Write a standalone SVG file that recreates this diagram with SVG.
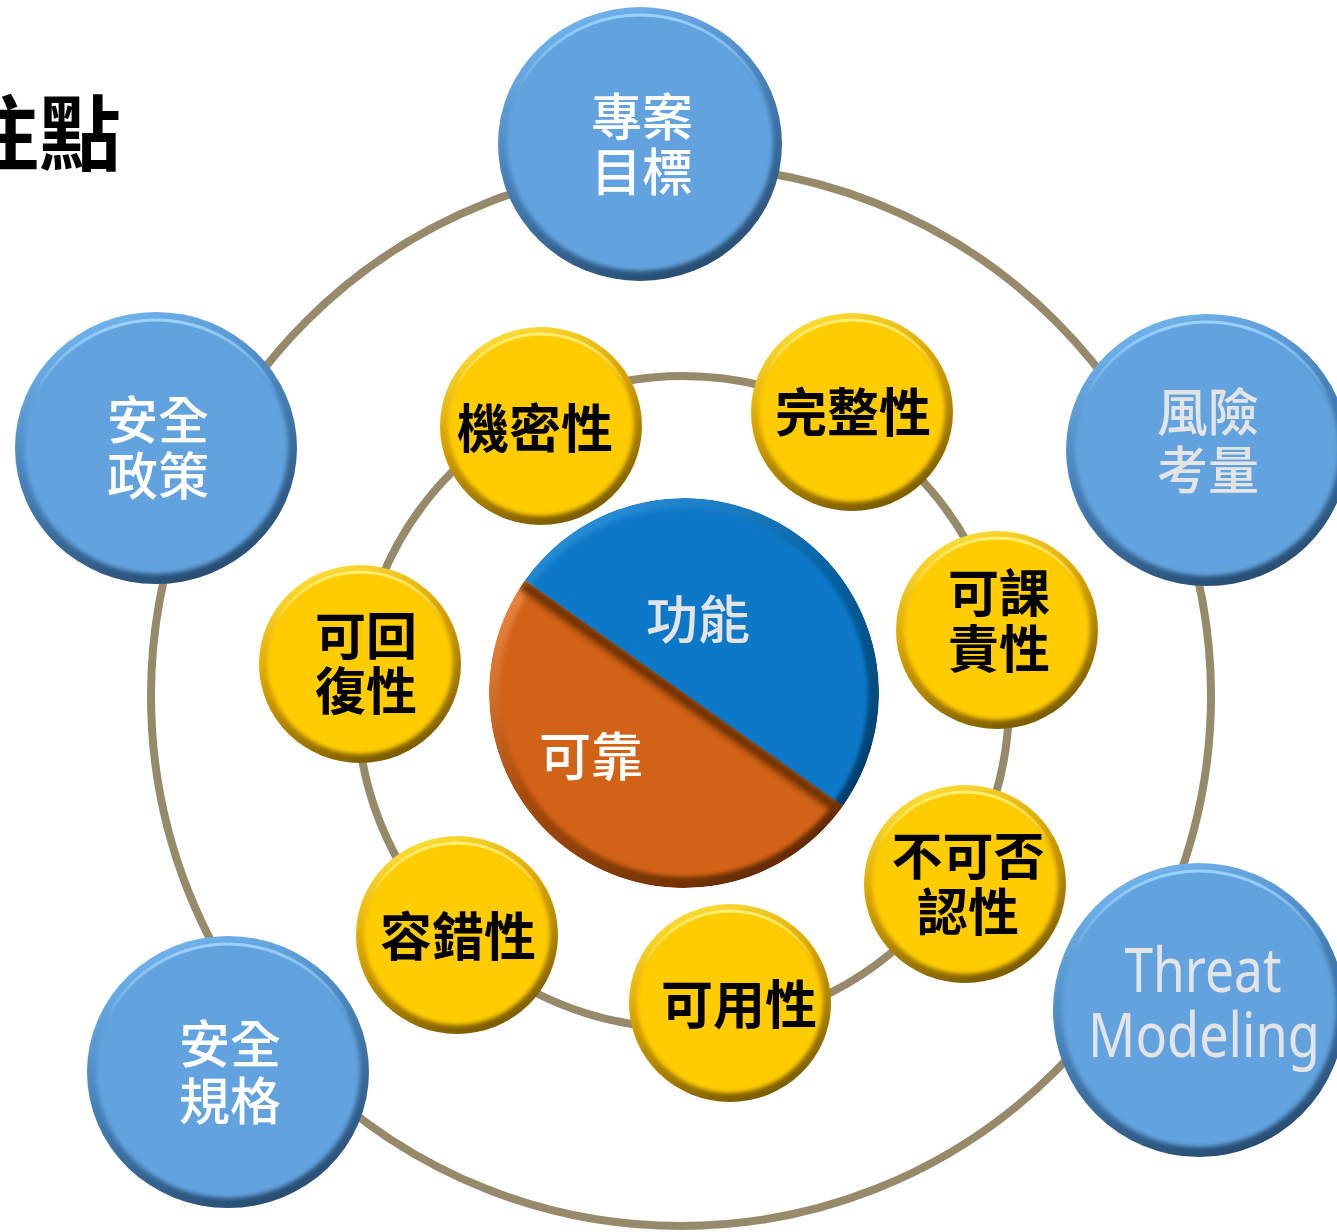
<svg xmlns="http://www.w3.org/2000/svg" width="1337" height="1232" viewBox="0 0 1337 1232">
<style>
.ring{fill:none;stroke:#968a6b;stroke-width:8}
.cjk{font-family:"Noto Sans CJK TC","Noto Sans CJK SC",sans-serif;text-anchor:middle;dominant-baseline:central}
.bt{font-size:51px;fill:#ffffff;font-weight:500}
.gt{font-size:51px;fill:#e4e4e4;font-weight:500}
.yt{font-size:52px;fill:#000000;font-weight:bold}
.y2{font-size:51px}
.lat{font-family:"Noto Sans","Open Sans",sans-serif;font-size:62px;fill:#e4e4e4;text-anchor:middle}
.brim{fill:url(#rimBlue)}
.bin{fill:#62a3df;filter:url(#soft)}
.bhl{fill:none;stroke:url(#hlBlue);stroke-width:3}
.yrim{fill:url(#rimYel)}
.yin{fill:#ffcc00;filter:url(#soft)}
.yhl{fill:none;stroke:url(#hlYel);stroke-width:3}
</style>
<defs>
<filter id="soft" x="-10%" y="-10%" width="120%" height="120%"><feGaussianBlur stdDeviation="2.2"/></filter>
<filter id="blur3" x="-10%" y="-10%" width="120%" height="120%"><feGaussianBlur stdDeviation="3"/></filter>
<linearGradient id="rimBlue" x1="0.3" y1="0" x2="0.7" y2="1">
<stop offset="0" stop-color="#74b6ee"/><stop offset="0.4" stop-color="#4a86c0"/><stop offset="1" stop-color="#264a6e"/>
</linearGradient>
<linearGradient id="hlBlue" x1="0" y1="0" x2="0" y2="1">
<stop offset="0" stop-color="#9ed4ff" stop-opacity="0.95"/><stop offset="0.3" stop-color="#9ed4ff" stop-opacity="0"/>
</linearGradient>
<linearGradient id="rimYel" x1="0.3" y1="0" x2="0.7" y2="1">
<stop offset="0" stop-color="#ffe03a"/><stop offset="0.4" stop-color="#d9a300"/><stop offset="1" stop-color="#755800"/>
</linearGradient>
<linearGradient id="hlYel" x1="0" y1="0" x2="0" y2="1">
<stop offset="0" stop-color="#fff27a" stop-opacity="0.95"/><stop offset="0.3" stop-color="#fff27a" stop-opacity="0"/>
</linearGradient>
<linearGradient id="rimPieB" x1="0.2" y1="0" x2="0.8" y2="1">
<stop offset="0" stop-color="#2c93e0"/><stop offset="0.45" stop-color="#05609f"/><stop offset="1" stop-color="#02345e"/>
</linearGradient>
<linearGradient id="rimPieO" x1="0" y1="0.2" x2="0.7" y2="1">
<stop offset="0" stop-color="#f5904a"/><stop offset="0.45" stop-color="#a84b0c"/><stop offset="1" stop-color="#622a05"/>
</linearGradient>
<clipPath id="pieClip"><circle cx="684" cy="693" r="195"/></clipPath>
<clipPath id="blueHalf"><path d="M524.9,580.1 A195,195 0 0 1 843.1,805.9 Z"/></clipPath>
<clipPath id="orangeHalf"><path d="M843.1,805.9 A195,195 0 0 1 524.9,580.1 Z"/></clipPath>
</defs>

<rect width="1337" height="1232" fill="#ffffff"/>

<text class="cjk" x="121" y="128" style="font-size:82px;font-weight:bold;fill:#000;text-anchor:end">注點</text>

<g id="connectors">
<circle class="ring" cx="681" cy="696" r="530"/>
<circle class="ring" cx="683" cy="702" r="326"/>
</g>

<g id="pie">
<g clip-path="url(#orangeHalf)">
<circle cx="684" cy="693" r="195" fill="url(#rimPieO)"/>
<circle cx="686" cy="691" r="186" fill="#d26216" filter="url(#soft)"/>
</g>
<g clip-path="url(#pieClip)">
<line x1="522" y1="584" x2="840" y2="810" stroke="#6e3006" stroke-width="11" filter="url(#blur3)"/>
</g>
<g clip-path="url(#blueHalf)">
<circle cx="684" cy="693" r="195" fill="url(#rimPieB)"/>
<circle cx="682" cy="695" r="186" fill="#0878c8" filter="url(#soft)"/>
</g>
<text class="cjk gt" x="698" y="616" style="font-size:52px">功能</text>
<text class="cjk bt" x="591" y="753" style="font-size:52px">可靠</text>
</g>

<g id="n-project">
<ellipse class="brim" cx="640" cy="144" rx="142" ry="137"/>
<ellipse class="bin" cx="640" cy="143" rx="133" ry="128"/>
<ellipse class="bhl" cx="640" cy="144" rx="134" ry="129"/>
<text class="cjk bt" x="642" y="114">專案</text>
<text class="cjk bt" x="642" y="169">目標</text>
</g>

<g id="n-policy">
<ellipse class="brim" cx="156" cy="448" rx="141" ry="136"/>
<ellipse class="bin" cx="156" cy="447" rx="132" ry="127"/>
<ellipse class="bhl" cx="156" cy="448" rx="133" ry="128"/>
<text class="cjk bt" x="158" y="417">安全</text>
<text class="cjk bt" x="158" y="473">政策</text>
</g>

<g id="n-risk">
<ellipse class="brim" cx="1207" cy="450" rx="141" ry="136"/>
<ellipse class="bin" cx="1207" cy="449" rx="132" ry="127"/>
<ellipse class="bhl" cx="1207" cy="450" rx="133" ry="128"/>
<text class="cjk gt" x="1208" y="409">風險</text>
<text class="cjk gt" x="1208" y="467">考量</text>
</g>

<g id="n-threat">
<ellipse class="brim" cx="1199" cy="1010" rx="146" ry="147"/>
<ellipse class="bin" cx="1199" cy="1009" rx="137" ry="138"/>
<ellipse class="bhl" cx="1199" cy="1010" rx="138" ry="139"/>
<text class="lat" x="1203" y="992" textLength="157" lengthAdjust="spacingAndGlyphs">Threat</text>
<text class="lat" x="1204" y="1057" textLength="232" lengthAdjust="spacingAndGlyphs">Modeling</text>
</g>

<g id="n-spec">
<ellipse class="brim" cx="228" cy="1072" rx="141" ry="136"/>
<ellipse class="bin" cx="228" cy="1071" rx="132" ry="127"/>
<ellipse class="bhl" cx="228" cy="1072" rx="133" ry="128"/>
<text class="cjk bt" x="230" y="1041">安全</text>
<text class="cjk bt" x="230" y="1098">規格</text>
</g>

<g id="n-confidentiality">
<ellipse class="yrim" cx="541" cy="426" rx="101" ry="99"/>
<ellipse class="yin" cx="541" cy="425" rx="93" ry="91"/>
<ellipse class="yhl" cx="541" cy="426" rx="94" ry="92"/>
<text class="cjk yt" x="535" y="425">機密性</text>
</g>

<g id="n-integrity">
<ellipse class="yrim" cx="852" cy="412" rx="101" ry="99"/>
<ellipse class="yin" cx="852" cy="411" rx="93" ry="91"/>
<ellipse class="yhl" cx="852" cy="412" rx="94" ry="92"/>
<text class="cjk yt" x="853" y="409">完整性</text>
</g>

<g id="n-accountability">
<ellipse class="yrim" cx="997" cy="630" rx="101" ry="99"/>
<ellipse class="yin" cx="997" cy="629" rx="93" ry="91"/>
<ellipse class="yhl" cx="997" cy="630" rx="94" ry="92"/>
<text class="cjk yt y2" x="999" y="590">可課</text>
<text class="cjk yt y2" x="999" y="646">責性</text>
</g>

<g id="n-recoverability">
<ellipse class="yrim" cx="360" cy="664" rx="101" ry="99"/>
<ellipse class="yin" cx="360" cy="663" rx="93" ry="91"/>
<ellipse class="yhl" cx="360" cy="664" rx="94" ry="92"/>
<text class="cjk yt y2" x="366" y="633">可回</text>
<text class="cjk yt y2" x="366" y="688">復性</text>
</g>

<g id="n-nonrepudiation">
<ellipse class="yrim" cx="965" cy="884" rx="101" ry="99"/>
<ellipse class="yin" cx="965" cy="883" rx="93" ry="91"/>
<ellipse class="yhl" cx="965" cy="884" rx="94" ry="92"/>
<text class="cjk yt y2" x="968" y="853">不可否</text>
<text class="cjk yt y2" x="968" y="909">認性</text>
</g>

<g id="n-faulttolerance">
<ellipse class="yrim" cx="457" cy="935" rx="101" ry="99"/>
<ellipse class="yin" cx="457" cy="934" rx="93" ry="91"/>
<ellipse class="yhl" cx="457" cy="935" rx="94" ry="92"/>
<text class="cjk yt" x="458" y="933">容錯性</text>
</g>

<g id="n-availability">
<ellipse class="yrim" cx="730" cy="1003" rx="101" ry="99"/>
<ellipse class="yin" cx="730" cy="1002" rx="93" ry="91"/>
<ellipse class="yhl" cx="730" cy="1003" rx="94" ry="92"/>
<text class="cjk yt" x="739" y="1001">可用性</text>
</g>
</svg>
